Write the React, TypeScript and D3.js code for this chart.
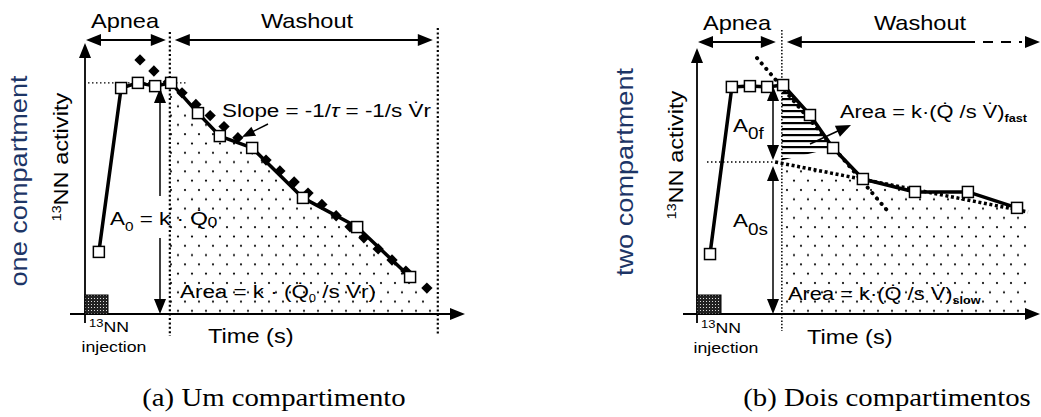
import React from 'react';
import * as d3 from 'd3';

const SANS = '"Liberation Sans", Arial, Helvetica, sans-serif';
const SERIF = '"Liberation Serif", "Times New Roman", serif';
const NAVY = '#1d3566';
const SX = 1.18; // the original lettering is wide

// ---------- (a) one compartment ----------
const oneTime = [3.3, 8.6, 12.6, 16.7, 20.5, 26.9, 32.1, 39.8, 51.9, 64.8, 77.4];
const oneActivity = [23.0, 83.7, 85.6, 84.4, 85.6, 74.4, 65.9, 61.5, 43.0, 32.2, 13.7];
// mono-exponential fit (filled diamonds)
const oneFitTime = [13.1, 16.4, 19.8, 23.1, 26.4, 29.8, 33.1, 36.4, 39.8, 43.1, 46.4, 49.8, 53.1, 56.4, 59.8, 63.1, 66.4, 69.8, 73.1, 76.4, 81.4];
const oneFitActivity = [94.1, 90.0, 85.9, 81.9, 77.6, 73.5, 69.4, 65.3, 61.1, 57.0, 53.0, 48.9, 44.8, 40.6, 36.4, 32.3, 28.2, 24.1, 20.0, 15.9, 9.6];

// ---------- (b) two compartments ----------
const twoTime = [3.1, 8.3, 12.6, 16.7, 20.5, 26.9, 32.4, 39.5, 51.9, 64.5, 76.2];
const twoActivity = [22.2, 84.1, 84.4, 84.1, 84.8, 73.7, 61.5, 50.0, 45.2, 45.2, 39.3];
const fastFitTime = [14.3, 45.2];
const fastFitActivity = [94.8, 38.5];
const slowFitTime = [18.6, 78.8];
const slowFitActivity = [56.3, 37.8];
const twoPlateau = 56.3; // A0s level

// phases (time units)
const apneaEnd = 20.2;
const washoutEnd = 84.0;

function head(tx: number, ty: number, dx: number, dy: number, len = 15, w = 12) {
  const L = Math.hypot(dx, dy);
  const ux = dx / L, uy = dy / L;
  const bx = tx - ux * len, by = ty - uy * len;
  const px = (-uy * w) / 2, py = (ux * w) / 2;
  return `M${tx},${ty}L${bx + px},${by + py}L${bx - px},${by - py}Z`;
}

function T(props: any) {
  const { x, y, rot = 0, sx = SX, anchor = 'start', size = 19, family = SANS, fill = '#000', children, weight } = props;
  return (
    <text
      transform={`translate(${x},${y}) rotate(${rot}) scale(${sx},1)`}
      textAnchor={anchor}
      fontSize={size}
      fontFamily={family}
      fill={fill}
      fontWeight={weight}
    >
      {children}
    </text>
  );
}

const y = d3.scaleLinear().domain([0, 100]).range([314, 44]);
const xa = d3.scaleLinear().domain([0, 100]).range([85, 505]);
const xb = d3.scaleLinear().domain([0, 100]).range([697, 1117]);
const line = d3.line<[number, number]>().x((d) => d[0]).y((d) => d[1]);

function Square({ p }: { p: [number, number] }) {
  return <rect x={p[0] - 5.5} y={p[1] - 5.5} width={11} height={11} fill="#fff" stroke="#000" strokeWidth={1.5} />;
}

function DoubleArrow({ x1, x2, yy }: { x1: number; x2: number; yy: number }) {
  return (
    <g>
      <line x1={x1 + 10} x2={x2 - 10} y1={yy} y2={yy} stroke="#000" strokeWidth={1.8} />
      <path d={head(x1, yy, -1, 0, 15, 12)} fill="#000" />
      <path d={head(x2, yy, 1, 0, 15, 12)} fill="#000" />
    </g>
  );
}

function VArrow({ xx, y1, y2, gap }: { xx: number; y1: number; y2: number; gap?: [number, number] }) {
  return (
    <g stroke="#000" strokeWidth={1.5}>
      {gap ? (
        <>
          <line x1={xx} x2={xx} y1={y1 + 10} y2={gap[0]} />
          <line x1={xx} x2={xx} y1={gap[1]} y2={y2 - 10} />
        </>
      ) : (
        <line x1={xx} x2={xx} y1={y1 + 10} y2={y2 - 10} />
      )}
      <path d={head(xx, y1, 0, -1, 15, 12)} fill="#000" stroke="none" />
      <path d={head(xx, y2, 0, 1, 15, 12)} fill="#000" stroke="none" />
    </g>
  );
}

function PanelA() {
  const pts: [number, number][] = oneTime.map((t, i) => [xa(t), y(oneActivity[i])]);
  const fit: [number, number][] = oneFitTime.map((t, i) => [xa(t), y(oneFitActivity[i])]);
  const wash = pts.filter((_, i) => oneTime[i] >= apneaEnd);
  const lastFit = fit[fit.length - 1];
  const area: [number, number][] = [
    [xa(apneaEnd), wash[0][1]],
    ...wash,
    lastFit,
    [xa(washoutEnd), y(0)],
    [xa(apneaEnd), y(0)],
  ];
  const xA = xa(apneaEnd), xW = xa(washoutEnd), ox = xa(0);
  const plateauY = y(oneActivity[4]);
  return (
    <g>
      <path d={line(area) + 'Z'} fill="url(#stipple)" />
      {/* phase boundaries */}
      <line x1={xA} x2={xA} y1={32} y2={336} stroke="#000" strokeWidth={2.2} strokeDasharray="2,2.4" />
      <line x1={xW} x2={xW} y1={28} y2={336} stroke="#000" strokeWidth={2.2} strokeDasharray="2,2.4" />
      <line x1={ox + 3} x2={xa(24.3)} y1={plateauY} y2={plateauY} stroke="#000" strokeWidth={1.4} strokeDasharray="1.5,2.5" />
      {/* axes */}
      <line x1={ox} x2={ox} y1={323} y2={55} stroke="#000" strokeWidth={1.8} />
      <path d={head(ox, 43, 0, -1)} fill="#000" />
      <line x1={70} x2={455} y1={y(0)} y2={y(0)} stroke="#000" strokeWidth={1.8} />
      <path d={head(465, y(0), 1, 0)} fill="#000" />
      {/* injection */}
      <rect x={ox} y={295} width={23} height={y(0) - 295} fill="url(#inj)" stroke="#000" strokeWidth={1} />
      {/* phases */}
      <DoubleArrow x1={ox + 1} x2={xA - 4} yy={40} />
      <DoubleArrow x1={xA + 5} x2={xW - 5} yy={40} />
      <T x={125} y={28} anchor="middle" size={20}>Apnea</T>
      <T x={307} y={28} anchor="middle" size={20}>Washout</T>
      {/* A0 */}
      <VArrow xx={160} y1={88} y2={314} gap={[196, 238]} />
      {/* fit diamonds */}
      {fit.map((p, i) => (
        <rect key={i} x={p[0] - 4} y={p[1] - 4} width={8} height={8} fill="#000" transform={`rotate(45,${p[0]},${p[1]})`} />
      ))}
      <path d={line(pts) || ''} fill="none" stroke="#000" strokeWidth={3.5} strokeLinejoin="round" />
      {pts.map((p, i) => <Square key={i} p={p} />)}
      {/* slope arrow */}
      <line x1={268} y1={124} x2={252} y2={132} stroke="#000" strokeWidth={1.5} />
      <path d={head(242, 137, -26, 13, 13, 10)} fill="#000" />
      <T x={222} y={117} size={19}>
        <tspan fontSize={19}>Slope = -1/</tspan>
        <tspan fontSize={19} fontStyle="italic">τ</tspan>
        <tspan fontSize={19}> = -1/s V{'\u0307'}r</tspan>
      </T>
      <T x={110} y={225} size={19}>
        <tspan fontSize={19}>A</tspan>
        <tspan fontSize={13} dy={6}>0</tspan>
        <tspan fontSize={19} dy={-6}> = k · Q{'\u0307'}</tspan>
        <tspan fontSize={15} dy={2}>0</tspan>
      </T>
      <T x={180} y={298} size={19}>
        <tspan fontSize={19}>Area = k · (Q{'\u0307'}</tspan>
        <tspan fontSize={11} dy={4}>0</tspan>
        <tspan fontSize={19} dy={-4}> /s V{'\u0307'}r)</tspan>
      </T>
      {/* labels */}
      <T x={27} y={181} rot={-90} anchor="middle" size={23} fill={NAVY}>one compartment</T>
      <T x={68} y={157} rot={-90} anchor="middle" size={20}>
        <tspan fontSize={12} dy={-7}>13</tspan>
        <tspan fontSize={20} dy={7}>NN activity</tspan>
      </T>
      <T x={89} y={332} size={15}>
        <tspan fontSize={11} dy={-5}>13</tspan>
        <tspan fontSize={15} dy={5}>NN</tspan>
      </T>
      <T x={114} y={352} anchor="middle" size={15}>injection</T>
      <T x={208} y={343} size={20}>Time (s)</T>
    </g>
  );
}

function PanelB() {
  const pts: [number, number][] = twoTime.map((t, i) => [xb(t), y(twoActivity[i])]);
  const fast: [number, number][] = fastFitTime.map((t, i) => [xb(t), y(fastFitActivity[i])]);
  const slow: [number, number][] = slowFitTime.map((t, i) => [xb(t), y(slowFitActivity[i])]);
  const xA = xb(apneaEnd), ox = xb(0);
  const iw = twoTime.findIndex((t) => t >= apneaEnd);
  const ifast = twoTime.findIndex((t) => t > fastFitTime[1] - 7);
  const hatch: [number, number][] = [[xA, pts[iw][1]], ...pts.slice(iw, ifast), slow[0]];
  const slowArea: [number, number][] = [slow[0], slow[1], [slow[1][0], y(0)], [slow[0][0], y(0)]];
  const plateauSlowY = y(twoPlateau);
  return (
    <g>
      <defs>
        <clipPath id="washB">
          <rect x={xA} y={0} width={400} height={y(0)} />
        </clipPath>
      </defs>
      <g clipPath="url(#washB)">
        <path d={line(slowArea) + 'Z'} fill="url(#stipple)" />
        <path d={line(hatch) + 'Z'} fill="url(#hatch)" />
      </g>
      <line x1={xA} x2={xA} y1={30} y2={331} stroke="#000" strokeWidth={1.5} strokeDasharray="1.5,1.8" />
      <line x1={ox + 10} x2={xb(18.6)} y1={plateauSlowY} y2={plateauSlowY} stroke="#000" strokeWidth={1.4} strokeDasharray="1.5,2.5" />
      {/* axes */}
      <line x1={ox} x2={ox} y1={323} y2={60} stroke="#000" strokeWidth={1.8} />
      <path d={head(ox, 48, 0, -1)} fill="#000" />
      <line x1={683} x2={1028} y1={y(0)} y2={y(0)} stroke="#000" strokeWidth={1.8} />
      <path d={head(1040, y(0), 1, 0)} fill="#000" />
      <rect x={ox} y={295} width={24} height={y(0) - 295} fill="url(#inj)" stroke="#000" strokeWidth={1} />
      {/* phases */}
      <DoubleArrow x1={ox + 1} x2={xA - 6} yy={42} />
      <line x1={xA + 12} x2={975} y1={42} y2={42} stroke="#000" strokeWidth={1.8} />
      <line x1={983} x2={1022} y1={42} y2={42} stroke="#000" strokeWidth={1.8} strokeDasharray="10,8" />
      <path d={head(xA + 5, 42, -1, 0)} fill="#000" />
      <path d={head(1040, 42, 1, 0)} fill="#000" />
      <T x={737} y={30} anchor="middle" size={20}>Apnea</T>
      <T x={920} y={30} anchor="middle" size={20}>Washout</T>
      {/* fits */}
      <path d={line(slow) || ''} fill="none" stroke="#000" strokeWidth={3.5} strokeDasharray="3,2.6" />
      <path d={line(fast) || ''} fill="none" stroke="#000" strokeWidth={4} strokeDasharray="0.1,7" strokeLinecap="round" />
      {/* A0f / A0s */}
      <VArrow xx={773} y1={86} y2={160} />
      <VArrow xx={773} y1={166} y2={314} />
      <path d={line(pts) || ''} fill="none" stroke="#000" strokeWidth={3.5} strokeLinejoin="round" />
      {pts.map((p, i) => <Square key={i} p={p} />)}
      <line x1={810} y1={144} x2={840} y2={130} stroke="#000" strokeWidth={1.5} />
      <path d={head(851, 125, 41, -19, 15, 12)} fill="#000" />
      <T x={733} y={132} size={19}>
        <tspan fontSize={19}>A</tspan>
        <tspan fontSize={16} dy={7}>0f</tspan>
      </T>
      <T x={733} y={227} size={19}>
        <tspan fontSize={19}>A</tspan>
        <tspan fontSize={16} dy={8}>0s</tspan>
      </T>
      <T x={840} y={118} size={19} sx={1.15}>
        <tspan fontSize={19}>Area = k·(Q{'\u0307'} /s V{'\u0307'})</tspan>
        <tspan fontSize={11} dy={4} fontWeight="bold">fast</tspan>
      </T>
      <T x={788} y={300} size={19} sx={1.15}>
        <tspan fontSize={19}>Area = k·(Q{'\u0307'} /s V{'\u0307'})</tspan>
        <tspan fontSize={11} dy={4} fontWeight="bold">slow</tspan>
      </T>
      <T x={633} y={172} rot={-90} anchor="middle" size={23} fill={NAVY}>two compartment</T>
      <T x={683} y={155} rot={-90} anchor="middle" size={20}>
        <tspan fontSize={12} dy={-7}>13</tspan>
        <tspan fontSize={20} dy={7}>NN activity</tspan>
      </T>
      <T x={701} y={333} size={15}>
        <tspan fontSize={11} dy={-5}>13</tspan>
        <tspan fontSize={15} dy={5}>NN</tspan>
      </T>
      <T x={726} y={353} anchor="middle" size={15}>injection</T>
      <T x={807} y={344} size={20}>Time (s)</T>
    </g>
  );
}

export default function App() {
  return (
    <svg
      width={1041}
      height={417}
      style={{ position: 'absolute', left: 0, top: 0, background: '#fff' }}
    >
      <defs>
        <pattern id="stipple" patternUnits="userSpaceOnUse" width={14} height={18.6}>
          <circle cx={3} cy={4} r={1.1} fill="#000" />
          <circle cx={10} cy={13.3} r={1.1} fill="#000" />
        </pattern>
        <pattern id="hatch" patternUnits="userSpaceOnUse" width={8} height={6}>
          <rect x={0} y={2} width={8} height={2.2} fill="#000" />
        </pattern>
        <pattern id="inj" patternUnits="userSpaceOnUse" width={3} height={3}>
          <rect width={3} height={3} fill="#222" />
          <rect x={1} y={1} width={1} height={1} fill="#ddd" />
        </pattern>
      </defs>
      <rect width={1041} height={417} fill="#fff" />
      <PanelA />
      <PanelB />
      <T x={274} y={406} anchor="middle" size={25} family={SERIF} sx={1.15}>(a) Um compartimento</T>
      <T x={887} y={406} anchor="middle" size={25} family={SERIF} sx={1.15}>(b) Dois compartimentos</T>
    </svg>
  );
}
